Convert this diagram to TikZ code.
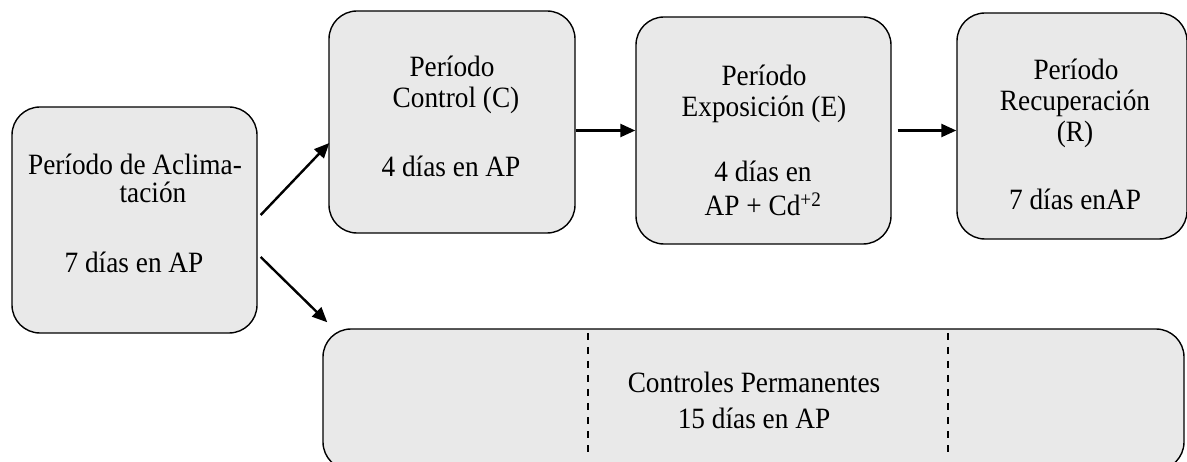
\documentclass[tikz,border=0pt]{standalone}
\usepackage{fontspec}
\setmainfont{Liberation Serif}
\usetikzlibrary{arrows.meta,calc}
\definecolor{boxgray}{RGB}{233,233,233}
\newcommand\stretchtxt[1]{\scalebox{1}[1.08]{#1}}
\begin{document}
\begin{tikzpicture}[x=1pt,y=1pt,
  box/.style={draw, line width=1.4pt, rounded corners=28pt, fill=boxgray, inner sep=0pt},
  txt/.style={anchor=base, inner sep=0pt, font=\fontsize{27.3}{31}\selectfont},
  conn/.style={line width=2.4pt, -{Triangle[length=15pt,width=13pt]}},
  sep/.style={line width=1.3pt, dash pattern=on 7pt off 7pt}]
\useasboundingbox (0,0) rectangle (1187,461);
% boxes
\node[box, minimum width=245pt, minimum height=226pt] (A) at (134.5,241) {};
\node[box, minimum width=246pt, minimum height=222pt] (C) at (452,339) {};
\node[box, minimum width=255pt, minimum height=227pt] (E) at (763.5,330.5) {};
\node[box, minimum width=230pt, minimum height=226pt] (R) at (1072,335) {};
\node[box, minimum width=861pt, minimum height=141pt] (P) at (753.5,61.5) {};
% separators in the permanent-control box
\coordinate (s1t) at (588,128);
\coordinate (s1b) at (588,8);
\coordinate (s2t) at (948,128);
\coordinate (s2b) at (948,8);
\draw[sep] (s1t) -- (s1b);
\draw[sep] (s2t) -- (s2b);
% texts
\node[txt] (a1) at (135,286) {\stretchtxt{Período de Aclima-}};
\node[txt] (a2) at (153,258.3) {\stretchtxt{tación}};
\node[txt] (a3) at (134,188.3) {\stretchtxt{7 días en AP}};
\node[txt] (c1) at (452,384) {\stretchtxt{Período}};
\node[txt] (c2) at (456,353) {\stretchtxt{Control (C)}};
\node[txt] (c3) at (451,284) {\stretchtxt{4 días en AP}};
\node[txt] (e1) at (764,375.5) {\stretchtxt{Período}};
\node[txt] (e2) at (764,344.5) {\stretchtxt{Exposición (E)}};
\node[txt] (e3) at (763,279) {\stretchtxt{4 días en}};
\node[txt] (e4) at (763,245) {\stretchtxt{AP + Cd\textsuperscript{+2}}};
\node[txt] (r1) at (1076,381) {\stretchtxt{Período}};
\node[txt] (r2) at (1075,350) {\stretchtxt{Recuperación}};
\node[txt] (r3) at (1075,319) {\stretchtxt{(R)}};
\node[txt] (r4) at (1075,251) {\stretchtxt{7 días enAP}};
\node[txt] (p1) at (754,68) {\stretchtxt{Controles Permanentes}};
\node[txt] (p2) at (754,33) {\stretchtxt{15 días en AP}};
% connectors
\draw[conn] ($(A.east)+(3,5)$) -- ($(C.west)+(1,-21)$);
\draw[conn] ($(A.east)+(3,-37)$) -- ($(P.north west)+(5,6)$);
\draw[conn] (C.east |- E.west) -- (E.west);
\draw[conn] ($(E.east)+(6,0)$) -- (R.west |- E.east);
\end{tikzpicture}
\end{document}
